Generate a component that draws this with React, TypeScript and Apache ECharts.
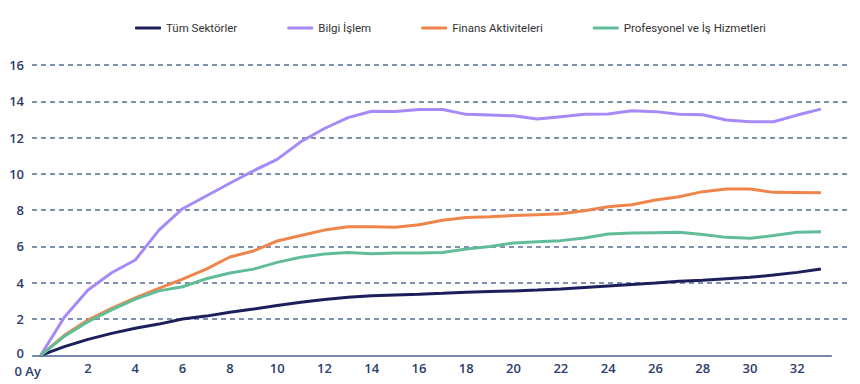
import React, { useEffect, useRef } from "react";
import * as echarts from "echarts";

const months: number[] = Array.from({ length: 34 }, (_, i) => i);
const xTickValues: number[] = [0, 2, 4, 6, 8, 10, 12, 14, 16, 18, 20, 22, 24, 26, 28, 30, 32];
const seriesNames: string[] = ["Tüm Sektörler", "Bilgi İşlem", "Finans Aktiviteleri", "Profesyonel ve İş Hizmetleri"];

const tumSektorler: number[] = [0, 0.48, 0.88, 1.21, 1.49, 1.72, 2.0, 2.16, 2.37, 2.55, 2.75, 2.92, 3.08, 3.2, 3.28, 3.33, 3.37, 3.42, 3.48, 3.52, 3.55, 3.6, 3.66, 3.74, 3.82, 3.9, 3.98, 4.08, 4.14, 4.22, 4.3, 4.42, 4.57, 4.76];
const bilgiIslem: number[] = [0, 2.1, 3.6, 4.55, 5.25, 6.9, 8.08, 8.78, 9.48, 10.17, 10.8, 11.77, 12.5, 13.1, 13.45, 13.44, 13.55, 13.55, 13.28, 13.24, 13.2, 13.02, 13.15, 13.28, 13.3, 13.48, 13.43, 13.28, 13.26, 12.97, 12.87, 12.87, 13.24, 13.57];
const finans: number[] = [0, 1.1, 1.94, 2.59, 3.17, 3.69, 4.2, 4.75, 5.42, 5.75, 6.3, 6.6, 6.9, 7.08, 7.08, 7.06, 7.2, 7.44, 7.6, 7.64, 7.7, 7.75, 7.8, 7.97, 8.19, 8.3, 8.56, 8.74, 9.02, 9.16, 9.17, 8.98, 8.97, 8.96];
const profesyonel: number[] = [0, 1.05, 1.85, 2.5, 3.1, 3.55, 3.78, 4.22, 4.54, 4.75, 5.12, 5.4, 5.58, 5.66, 5.6, 5.64, 5.64, 5.66, 5.86, 6.0, 6.19, 6.26, 6.32, 6.46, 6.68, 6.74, 6.76, 6.78, 6.66, 6.5, 6.45, 6.6, 6.78, 6.81];

const colors: string[] = ["#1c1f5c", "#a68af7", "#f0854b", "#60bd98"];

export default function App() {
  const ref = useRef<HTMLDivElement>(null);
  useEffect(() => {
    document.body.style.margin = "0";
    if (!ref.current) return;
    const chart = echarts.init(ref.current, null, { renderer: "svg" });
    const allData = [tumSektorler, bilgiIslem, finans, profesyonel];
    const series: any[] = allData.map((arr, i) => ({
      name: seriesNames[i],
      type: "line",
      data: months.map((m, j) => [m, arr[j]]),
      showSymbol: false,
      symbol: "none",
      lineStyle: { width: 3, color: colors[i] },
      itemStyle: { color: colors[i] },
      z: 3,
    }));
    series[0].markLine = {
      silent: true,
      symbol: ["none", "none"],
      label: { show: false },
      lineStyle: { type: "solid", color: "#4a5e90", width: 1.5 },
      data: [[{ coord: [-0.36, 0] }, { coord: [33.46, 0] }]],
      z: 1,
    };
    const labelFont = { color: "#2d3c6e", fontFamily: "Open Sans", fontWeight: 600, fontSize: 13, lineHeight: 12 };
    chart.setOption({
      animation: false,
      color: colors,
      legend: {
        top: 17,
        left: 130,
        icon: "roundRect",
        itemWidth: 26,
        itemHeight: 3,
        itemGap: 50,
        textStyle: { fontFamily: "Roboto", fontSize: 11.5, color: "#333" },
        data: seriesNames,
      },
      grid: { left: 32, right: 10, top: 65, bottom: 28.7, containLabel: false },
      xAxis: {
        type: "value",
        min: -0.368,
        max: 34.23,
        axisLine: { show: false },
        axisTick: { show: false },
        splitLine: { show: false },
        axisLabel: {
          customValues: xTickValues,
          margin: 7,
          ...labelFont,
          formatter: (v: number) => (v === 0 ? "{a|0 Ay}" : String(v)),
          rich: {
            a: { ...labelFont, padding: [5, 26, 0, 0] },
          },
        },
      },
      yAxis: {
        type: "value",
        min: 0,
        max: 16,
        interval: 2,
        axisLine: { show: false },
        axisTick: { show: false },
        axisLabel: {
          margin: 8,
          ...labelFont,
          formatter: (v: number) => (v === 0 ? "{z|0}" : String(v)),
          rich: {
            z: { ...labelFont, padding: [0, 0, 5, 0] },
          },
        },
        splitLine: {
          show: true,
          showMinLine: false,
          lineStyle: { type: [5, 4], color: "#5a6d98", width: 1.5 },
        },
      },
      series,
    });
    return () => chart.dispose();
  }, []);
  return <div ref={ref} style={{ width: 860, height: 384 }} />;
}
